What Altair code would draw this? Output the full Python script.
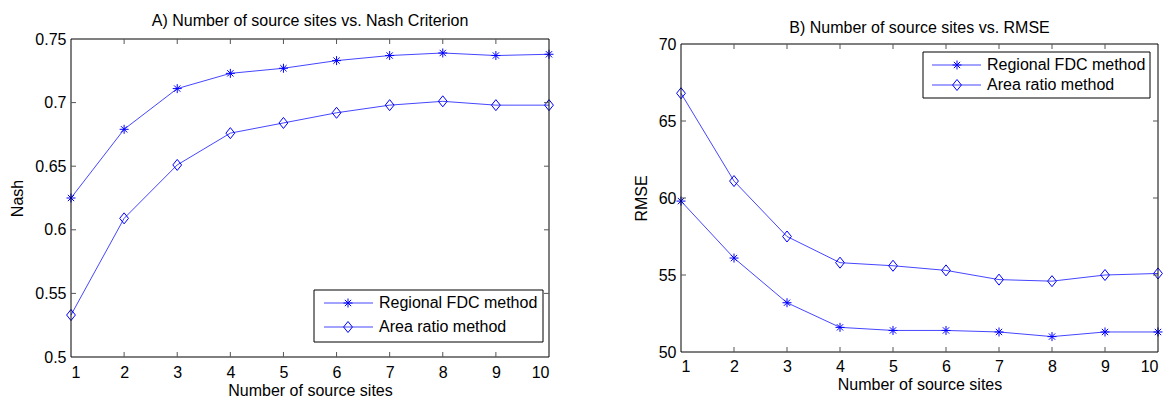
import altair as alt
import pandas as pd

sites = [1, 2, 3, 4, 5, 6, 7, 8, 9, 10]
nash_fdc = [0.625, 0.679, 0.711, 0.723, 0.727, 0.733, 0.737, 0.739, 0.737, 0.738]
nash_area = [0.533, 0.609, 0.651, 0.676, 0.684, 0.692, 0.698, 0.701, 0.698, 0.698]
rmse_fdc = [59.8, 56.1, 53.2, 51.6, 51.4, 51.4, 51.3, 51.0, 51.3, 51.3]
rmse_area = [66.8, 61.1, 57.5, 55.8, 55.6, 55.3, 54.7, 54.6, 55.0, 55.1]
series_names = ["Regional FDC method", "Area ratio method"]
nash_ticks = [0.5, 0.55, 0.6, 0.65, 0.7, 0.75]
rmse_ticks = [50, 55, 60, 65, 70]

STAR = "M0,-1L0,1M-1,0L1,0M-0.7,-0.7L0.7,0.7M-0.7,0.7L0.7,-0.7"
DIAM = "M0,-1L0.8,0L0,1L-0.8,0Z"
LINE_C = "#4646ff"
MARK_C = "#0000ff"
FONT = "Liberation Sans"
FS = 16


def panel(title, ytitle, yvals_a, yvals_b, ydomain, yticks, yfmt, w, h, top, leg, toff, lpad):
    # top: vertical inset (px) of the framed plot box inside the view
    H = h + top
    df = pd.DataFrame({
        "x": sites * 2,
        "y": yvals_a + yvals_b,
        "s": [series_names[0]] * 10 + [series_names[1]] * 10,
    })
    xs = alt.Scale(domain=[1, 10], nice=False, zero=False)
    ys = alt.Scale(domain=ydomain, nice=False, zero=False, range=[H, top])
    xax = alt.Axis(values=sites, ticks=False, domain=False, grid=False, labelPadding=lpad,
                   title="Number of source sites", titlePadding=2, format="d")
    yax = alt.Axis(values=yticks, ticks=False, domain=False, grid=False, labelPadding=5,
                   title=ytitle, titlePadding=9, format=yfmt)
    base = alt.Chart(df)
    lines = base.mark_line(color=LINE_C, strokeWidth=1).encode(
        x=alt.X("x:Q", scale=xs, axis=xax),
        y=alt.Y("y:Q", scale=ys, axis=yax),
        detail="s:N",
    )
    pts_a = base.transform_filter(alt.datum.s == series_names[0]).mark_point(
        shape=STAR, size=81, color=MARK_C, strokeWidth=1, filled=False, opacity=1
    ).encode(x=alt.X("x:Q", scale=xs), y=alt.Y("y:Q", scale=ys))
    pts_b = base.transform_filter(alt.datum.s == series_names[1]).mark_point(
        shape=DIAM, size=121, color=MARK_C, strokeWidth=1, filled=False, opacity=1
    ).encode(x=alt.X("x:Q", scale=xs), y=alt.Y("y:Q", scale=ys))

    one = alt.Chart(alt.Data(values=[{"a": 1}]))
    frame = one.mark_rect(fill="transparent", stroke="black", strokeWidth=1).encode(
        x=alt.value(0), x2=alt.value(w), y=alt.value(top), y2=alt.value(H))

    xt = alt.Chart(pd.DataFrame({"t": sites[1:-1]}))
    yt = alt.Chart(pd.DataFrame({"t": yticks[1:-1]}))
    tick_c = "#555555"
    tb = xt.mark_rule(color=tick_c, strokeWidth=1).encode(
        x=alt.X("t:Q", scale=xs), y=alt.value(H), y2=alt.value(H - 5))
    tt = xt.mark_rule(color=tick_c, strokeWidth=1).encode(
        x=alt.X("t:Q", scale=xs), y=alt.value(top), y2=alt.value(top + 5))
    tl = yt.mark_rule(color=tick_c, strokeWidth=1).encode(
        y=alt.Y("t:Q", scale=ys), x=alt.value(0), x2=alt.value(5))
    tr = yt.mark_rule(color=tick_c, strokeWidth=1).encode(
        y=alt.Y("t:Q", scale=ys), x=alt.value(w), x2=alt.value(w - 5))

    # legend box
    bx0, bx1, by0, by1, r1, r2, lx0, lx1, mx, tx = leg
    box = one.mark_rect(fill="white", stroke="black", strokeWidth=1).encode(
        x=alt.value(bx0), x2=alt.value(bx1), y=alt.value(top + by0), y2=alt.value(top + by1))
    leg_layers = [box]
    for ry, shp, sz, name in [(r1, STAR, 81, series_names[0]), (r2, DIAM, 121, series_names[1])]:
        leg_layers.append(one.mark_rule(color=LINE_C, strokeWidth=1).encode(
            x=alt.value(lx0), x2=alt.value(lx1), y=alt.value(top + ry)))
        leg_layers.append(one.mark_point(shape=shp, size=sz, color=MARK_C, strokeWidth=1,
                                         filled=False, opacity=1).encode(
            x=alt.value(mx), y=alt.value(top + ry)))
        leg_layers.append(one.mark_text(align="left", baseline="middle", fontSize=FS,
                                        font=FONT, color="black").encode(
            x=alt.value(tx), y=alt.value(top + ry), text=alt.value(name)))

    return alt.layer(lines, pts_a, pts_b, frame, tb, tt, tl, tr, *leg_layers).properties(
        width=w, height=H,
        view=alt.ViewConfig(stroke="transparent"),
        title=alt.TitleParams(title, fontSize=FS, fontWeight="normal", font=FONT,
                              color="black", offset=toff, anchor="middle"),
    )


left = panel("A) Number of source sites vs. Nash Criterion", "Nash", nash_fdc, nash_area,
             [0.5, 0.75], nash_ticks, ".2~f", 478, 318, 0,
             (243, 472, 251, 303, 264, 288, 253, 302, 277, 308), 2, 7)
right = panel("B) Number of source sites vs. RMSE", "RMSE", rmse_fdc, rmse_area,
              [50, 70], rmse_ticks, "d", 477, 308, 5,
              (242, 469, 8, 54, 21, 41, 251, 300, 276, 306), 0, 6)

chart = alt.hconcat(left, right, spacing=76).properties(
    padding={"left": 9, "top": 12, "right": 0, "bottom": 0}
).configure_axis(
    labelFont=FONT, labelFontSize=FS, labelColor="black",
    titleFont=FONT, titleFontSize=FS, titleFontWeight="normal", titleColor="black",
)

chart.save("out.html", embed_options={"renderer": "svg", "actions": False})
